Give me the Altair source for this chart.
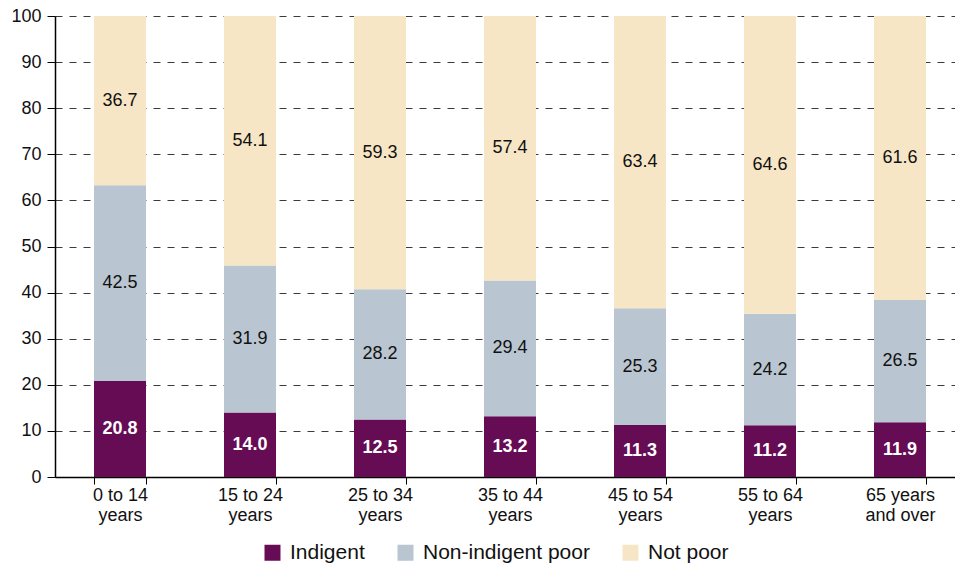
import altair as alt
import pandas as pd

line1 = ["0 to 14", "15 to 24", "25 to 34", "35 to 44", "45 to 54", "55 to 64", "65 years"]
line2 = ["years", "years", "years", "years", "years", "years", "and over"]
categories = [a + "|" + b for a, b in zip(line1, line2)]

groups = ["Indigent", "Non-indigent poor", "Not poor"]
indigent = [20.8, 14.0, 12.5, 13.2, 11.3, 11.2, 11.9]
non_indigent = [42.5, 31.9, 28.2, 29.4, 25.3, 24.2, 26.5]
not_poor = [36.7, 54.1, 59.3, 57.4, 63.4, 64.6, 61.6]
colors = ["#660c55", "#b9c5d0", "#f6e6c6"]

rows = []
for series, vals in zip(groups, [indigent, non_indigent, not_poor]):
    for i, (c, v) in enumerate(zip(categories, vals)):
        rows.append({"age": c, "group": series, "value": v, "rank": groups.index(series), "ci": i})
df = pd.DataFrame(rows)

FONT = "Liberation Sans"

base = alt.Chart(df).transform_stack(
    stack="value", groupby=["age"], as_=["y0", "y1"],
    sort=[alt.SortField("rank", order="ascending")]
).transform_calculate(mid="(datum.y0 + datum.y1) / 2")

xscale = alt.Scale(range=[0, 910], paddingInner=0.6, paddingOuter=0.3)
yscale = alt.Scale(domain=[0, 100], nice=False)

xenc = alt.X("age:N", sort=categories, title=None, scale=xscale,
             axis=alt.Axis(labelExpr="split(datum.label, '|')", title=None))

bars = base.mark_bar().encode(
    x=xenc,
    y=alt.Y("y0:Q", scale=yscale, axis=alt.Axis(title=None)),
    y2="y1:Q",
    color=alt.Color("group:N", sort=groups,
                    scale=alt.Scale(domain=groups, range=colors),
                    legend=alt.Legend(title=None, orient="none", direction="horizontal",
                                      legendX=207, legendY=526, symbolType="square",
                                      symbolSize=256, symbolStrokeWidth=0,
                                      labelFontSize=21, labelFont=FONT, labelColor="#111",
                                      labelOffset=7, columnPadding=30, labelLimit=400)),
)

txt_white = base.transform_filter(alt.datum.group == "Indigent").mark_text(
    color="white", fontWeight="bold", fontSize=18, font=FONT, baseline="middle"
).encode(x=xenc, y=alt.Y("mid:Q", scale=yscale, axis=alt.Axis(title=None)),
         text=alt.Text("value:Q", format=".1f"))

txt_black = base.transform_filter(alt.datum.group != "Indigent").mark_text(
    color="#111", fontSize=18, font=FONT, baseline="middle"
).encode(x=xenc, y=alt.Y("mid:Q", scale=yscale, axis=alt.Axis(title=None)),
         text=alt.Text("value:Q", format=".1f"))

chart = alt.layer(bars, txt_white, txt_black).properties(
    width=900, height=461,
    autosize=alt.AutoSizeParams(type="none"),
    padding={"left": 55, "top": 16, "right": 0, "bottom": 88},
).configure_view(stroke=None).configure_axisY(
    values=list(range(0, 101, 10)), grid=True, gridDash=[7, 7],
    gridColor="#3a3a3a", gridWidth=1, tickSize=8, tickColor="black",
    domainColor="black", domainWidth=1.5, labelFontSize=18,
    labelColor="#111", labelFont=FONT, labelPadding=6, zindex=0,
).configure_axisX(
    labelAngle=0, tickBand="extent", tickSize=7, tickColor="black",
    domainColor="black", domainWidth=1.5, labelFontSize=18,
    labelColor="#111", labelPadding=2, labelLineHeight=20,
    labelFont=FONT, grid=False, labelBaseline="top", zindex=0,
)

chart.save("out.html", embed_options={"renderer": "svg", "actions": False})
